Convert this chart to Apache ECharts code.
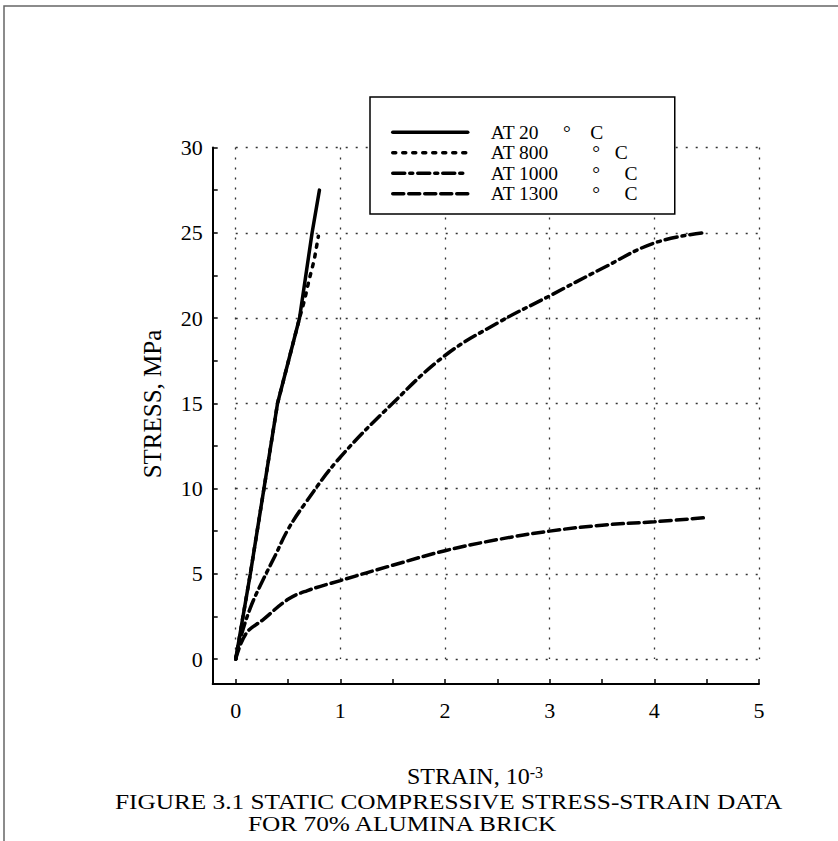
<!DOCTYPE html>
<html>
<head>
<meta charset="utf-8">
<script src="https://cdn.jsdelivr.net/npm/echarts@6/dist/echarts.min.js"></script>
<style>
html,body{margin:0;padding:0;background:#fff;}
#chart{width:838px;height:841px;}
</style>
</head>
<body>
<div id="chart"></div>
<script>
// ---- data (strain in 10^-3, stress in MPa) ----
const NB = '\u00A0';
function sp(n) { return NB.repeat(n); }
const seriesNames = [
  'AT 20' + sp(5) + '°' + sp(4) + 'C',
  'AT 800' + sp(9) + '°' + sp(3) + 'C',
  'AT 1000' + sp(7) + '°' + sp(5) + 'C',
  'AT 1300' + sp(7) + '°' + sp(5) + 'C'
];
const strain20 = [0, 0.14, 0.27, 0.40, 0.61, 0.73, 0.80];
const stress20 = [0, 5, 10, 15, 20, 25, 27.5];
const strain800 = [0, 0.14, 0.27, 0.40, 0.61, 0.66, 0.70, 0.75, 0.79];
const stress800 = [0, 5, 10, 15, 20, 21.1, 22.2, 23.4, 24.8];
const strain1000 = [0, 0.04, 0.14, 0.25, 0.38, 0.5, 0.66, 0.98, 1.5, 2.0, 2.5, 3.0, 3.5, 4.0, 4.47];
const stress1000 = [0, 1.1, 3.0, 4.5, 6.1, 7.6, 9.1, 11.7, 15.0, 17.8, 19.7, 21.3, 22.9, 24.4, 25.0];
const strain1300 = [0, 0.1, 0.26, 0.5, 0.68, 1.0, 1.5, 2.0, 2.5, 3.0, 3.5, 4.0, 4.5];
const stress1300 = [0, 1.5, 2.3, 3.5, 4.0, 4.6, 5.5, 6.35, 7.0, 7.5, 7.85, 8.05, 8.3];
const xTitle = 'STRAIN, 10';
const xTitleSup = '-3';
const yTitle = 'STRESS, MPa';
const caption1 = 'FIGURE 3.1 STATIC COMPRESSIVE STRESS-STRAIN DATA';
const caption2 = 'FOR 70% ALUMINA BRICK';

function pairs(xs, ys) { return xs.map((x, i) => [x, ys[i]]); }

const FONT = 'Liberation Serif';
const chart = echarts.init(document.getElementById('chart'), null, {renderer: 'svg'});

function lineSeries(name, xs, ys, type, width, smooth) {
  return {
    name: name, type: 'line', xAxisIndex: 0, yAxisIndex: 0,
    data: pairs(xs, ys), symbol: 'none', clip: false,
    smooth: smooth,
    lineStyle: {color: '#000', width: width, type: type, cap: 'round'},
    itemStyle: {color: '#000'}
  };
}

const option = {
  animation: false,
  backgroundColor: '#fff',
  grid: [
    {left: 235.7, right: 79, top: 147.5, bottom: 182},
    {left: 212.7, right: 79, top: 147.5, bottom: 157}
  ],
  xAxis: [
    {
      type: 'value', gridIndex: 0, min: 0, max: 5, interval: 1, offset: 25,
      axisLine: {show: false, onZero: false},
      axisTick: {show: true, inside: true, length: 5, lineStyle: {color: '#000', width: 1.5}},
      minorTick: {show: true, splitNumber: 2, length: 5, lineStyle: {color: '#000', width: 1.5}},
      splitLine: {show: true, lineStyle: {type: [2, 8], color: '#333', width: 1.3}},
      axisLabel: {margin: 15, fontSize: 22, fontFamily: FONT, color: '#000'}
    },
    {
      type: 'value', gridIndex: 1, min: 0, max: 1,
      axisLine: {show: true, onZero: false, lineStyle: {color: '#000', width: 2}},
      axisTick: {show: false}, axisLabel: {show: false}, splitLine: {show: false}
    }
  ],
  yAxis: [
    {
      type: 'value', gridIndex: 0, min: 0, max: 30, interval: 5, offset: 23,
      axisLine: {show: false, onZero: false},
      axisTick: {show: true, inside: true, length: 5, lineStyle: {color: '#000', width: 1.5}},
      minorTick: {show: true, splitNumber: 2, length: 5, lineStyle: {color: '#000', width: 1.5}},
      splitLine: {show: true, lineStyle: {type: [2, 8], color: '#333', width: 1.3}},
      axisLabel: {margin: 10, fontSize: 22, fontFamily: FONT, color: '#000'}
    },
    {
      type: 'value', gridIndex: 1, min: 0, max: 1,
      axisLine: {show: true, onZero: false, lineStyle: {color: '#000', width: 2}},
      axisTick: {show: false}, axisLabel: {show: false}, splitLine: {show: false}
    }
  ],
  legend: {
    show: true, orient: 'vertical', left: 370, top: 97,
    itemWidth: 75, itemHeight: 14, itemGap: 0.5,
    padding: [25.25, 37, 10.25, 21],
    borderColor: '#000', borderWidth: 1.5, backgroundColor: '#fff',
    selectedMode: false,
    itemStyle: {opacity: 0},
    lineStyle: {width: 3.5, color: '#000'},
    textStyle: {fontFamily: FONT, fontSize: 19.5, color: '#000', padding: [0, 0, 0, 18]},
    data: seriesNames
  },
  series: [
    lineSeries(seriesNames[0], strain20, stress20, 'solid', 3.5, false),
    lineSeries(seriesNames[1], strain800, stress800, [3, 7], 3.5, false),
    lineSeries(seriesNames[2], strain1000, stress1000, [12, 5, 3, 5], 3.5, 0.4),
    lineSeries(seriesNames[3], strain1300, stress1300, [11, 5], 3.5, 0.4)
  ],
  graphic: [
    {type: 'polyline', silent: true, shape: {points: [[4, 841], [4, 6], [838, 6]]},
     style: {stroke: '#666', lineWidth: 1.5, fill: null}},
    {type: 'text', x: 475, y: 776,
     style: {text: '{a|' + xTitle + '}{b|' + xTitleSup + '}', textAlign: 'center', textVerticalAlign: 'middle',
       fill: '#000', fontFamily: FONT, fontSize: 24,
       rich: {a: {fontSize: 24, fontFamily: FONT, fill: '#000', lineHeight: 24},
              b: {fontSize: 16, fontFamily: FONT, fill: '#000', lineHeight: 16, verticalAlign: 'top'}}}},
    {type: 'text', x: 152, y: 404, rotation: Math.PI / 2,
     style: {text: yTitle, textAlign: 'center', textVerticalAlign: 'middle', fill: '#000', fontFamily: FONT, fontSize: 25}},
    {type: 'text', x: 115, y: 801.5, scaleX: 1.15,
     style: {text: caption1, textAlign: 'left', textVerticalAlign: 'middle', fill: '#000', fontFamily: FONT, fontSize: 22}},
    {type: 'text', x: 248, y: 823.5, scaleX: 1.15,
     style: {text: caption2, textAlign: 'left', textVerticalAlign: 'middle', fill: '#000', fontFamily: FONT, fontSize: 22}}
  ]
};
chart.setOption(option);
</script>
</body>
</html>
